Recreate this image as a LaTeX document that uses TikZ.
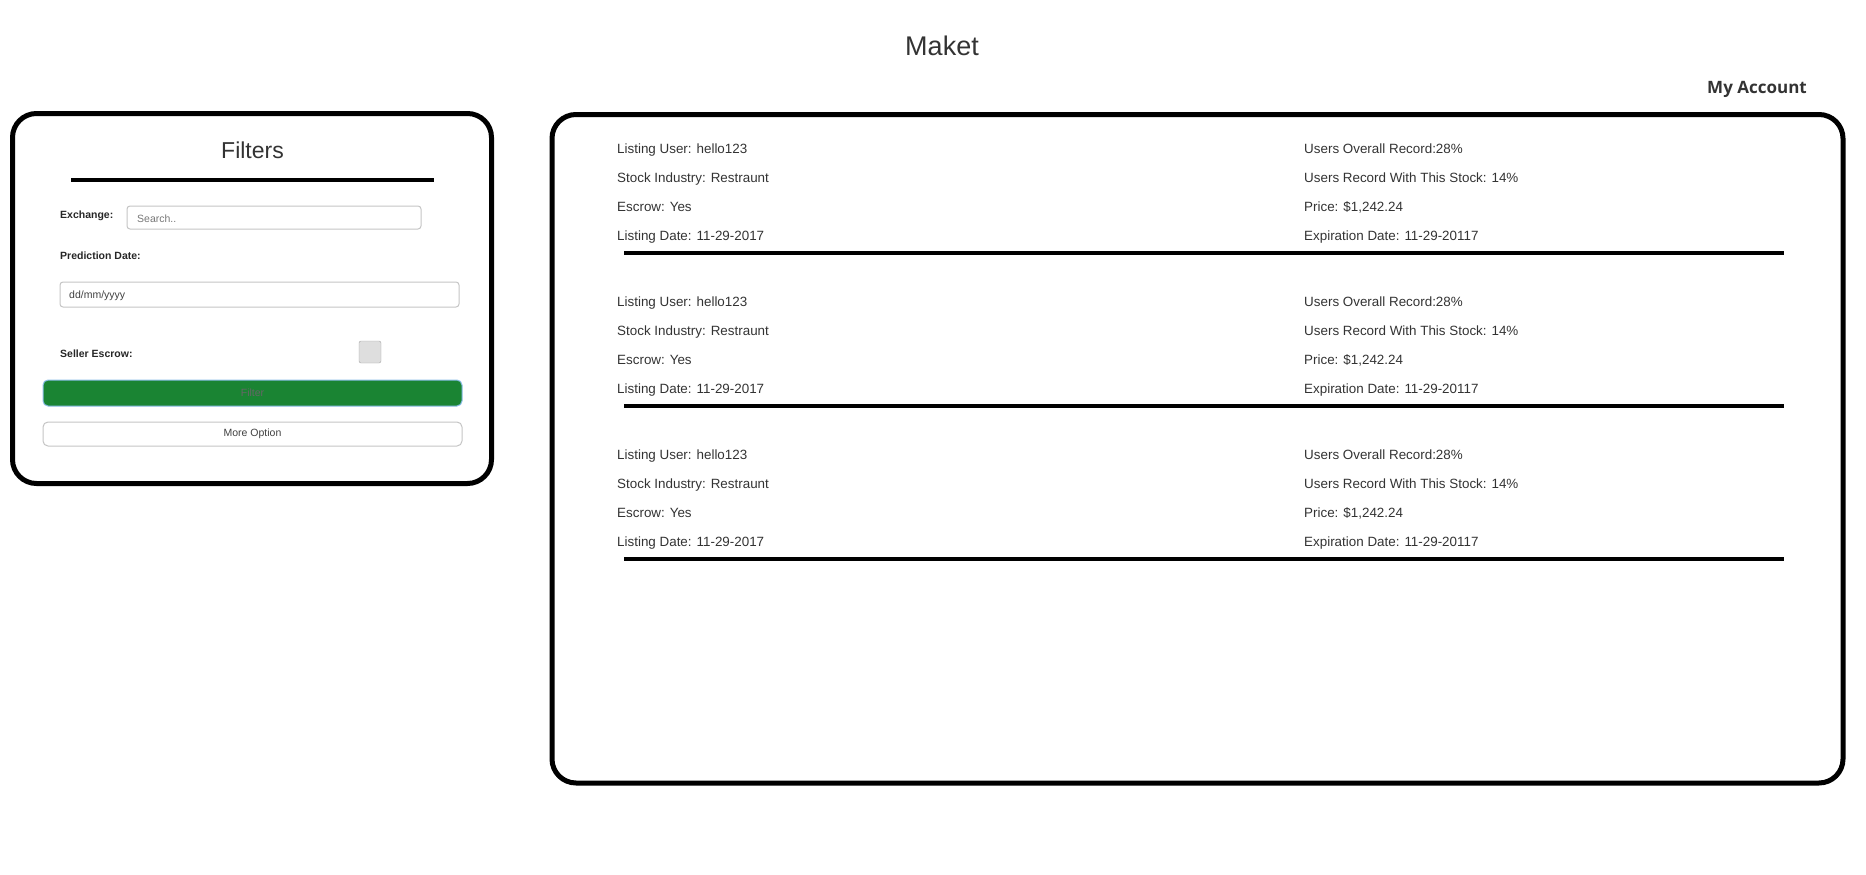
\documentclass[tikz,border=0pt]{standalone}
\usepackage{fontspec}
\setmainfont{Liberation Sans}
\newfontfamily\accountfont{Open Sans}
\definecolor{textgray}{HTML}{333333}
\definecolor{fieldgray}{HTML}{C4C4C4}
\definecolor{hintgray}{HTML}{777777}
\definecolor{btngreen}{HTML}{1A8433}
\definecolor{btnglow}{HTML}{8CBDE8}
\begin{document}
\begin{tikzpicture}[x=1pt,y=-1pt]
  \tikzstyle{panel}=[draw=black,line width=5pt,rounded corners=24pt]
  \tikzstyle{entry}=[anchor=base west,inner sep=0pt,text=textgray,font=\fontsize{13.4}{16}\selectfont]
  \tikzstyle{fieldlabel}=[anchor=base west,inner sep=0pt,text=black!85,font=\fontsize{10.5}{12}\selectfont\bfseries]
  \tikzstyle{hint}=[anchor=base west,inner sep=0pt,font=\fontsize{10.5}{12}\selectfont]
  \tikzstyle{field}=[draw=fieldgray,line width=1pt,rounded corners=3pt]
  \tikzstyle{button}=[rounded corners=5pt,minimum width=419pt,inner sep=0pt,font=\fontsize{10.5}{12}\selectfont]
  \tikzstyle{divider}=[line width=3.5pt]
  \useasboundingbox (0,0) rectangle (1866,875);

  % header
  \node[text=textgray,font=\fontsize{27}{30}\selectfont] (title) at (942,46) {Maket};
  \node[anchor=base east,inner sep=0pt,text=textgray,font=\accountfont\fontsize{17}{20}\selectfont\bfseries] (account) at (1807,93) {My Account};

  % filters panel
  \draw[panel] (12.5,113.5) rectangle (491.5,483.5);
  \node[text=textgray,font=\fontsize{23}{26}\selectfont] (filters) at (252.5,150) {Filters};
  \draw[divider] (71,180) -- (434,180);
  \node[fieldlabel] (exchange) at (60,218) {Exchange:};
  \draw[field] (127,206) rectangle (421,229);
  \node[hint,text=hintgray] (search) at (137,222) {Search..};
  \node[fieldlabel] (predict) at (60,259) {Prediction Date:};
  \draw[field] (60,282) rectangle (459,307);
  \node[hint,text=black!75] (date) at (69,298) {dd/mm/yyyy};
  \node[fieldlabel] (escrowlabel) at (60,357) {Seller Escrow:};
  \node[draw=black!35,fill=black!13,rounded corners=2pt,minimum size=22pt,inner sep=0pt] (escrowbox) at (370,352) {};
  \node[button,fill=btngreen,draw=btnglow,line width=1pt,minimum height=26pt,text=black!60] (filterbtn) at (252.5,393) {Filter};
  \node[button,draw=fieldgray,line width=1pt,minimum height=24pt,text=black!75] (morebtn) at (252.5,434) {More Option};

  % listings panel
  \draw[panel] (552,114.5) rectangle (1843,783);

  \node[entry] (user1) at (617,153.5) {Listing User: hello123};
  \node[entry] (industry1) at (617,182.5) {Stock Industry: Restraunt};
  \node[entry] (escrow1) at (617,211.5) {Escrow: Yes};
  \node[entry] (listed1) at (617,240.5) {Listing Date: 11-29-2017};
  \node[entry] (overall1) at (1304,153.5) {Users Overall Record:28\%};
  \node[entry] (stockrec1) at (1304,182.5) {Users Record With This Stock: 14\%};
  \node[entry] (price1) at (1304,211.5) {Price: \$1,242.24};
  \node[entry] (expire1) at (1304,240.5) {Expiration Date: 11-29-20117};
  \draw[divider] (624,253) -- (1784,253);

  \node[entry] (user2) at (617,306.5) {Listing User: hello123};
  \node[entry] (industry2) at (617,335.5) {Stock Industry: Restraunt};
  \node[entry] (escrow2) at (617,364.5) {Escrow: Yes};
  \node[entry] (listed2) at (617,393.5) {Listing Date: 11-29-2017};
  \node[entry] (overall2) at (1304,306.5) {Users Overall Record:28\%};
  \node[entry] (stockrec2) at (1304,335.5) {Users Record With This Stock: 14\%};
  \node[entry] (price2) at (1304,364.5) {Price: \$1,242.24};
  \node[entry] (expire2) at (1304,393.5) {Expiration Date: 11-29-20117};
  \draw[divider] (624,406) -- (1784,406);

  \node[entry] (user3) at (617,459.5) {Listing User: hello123};
  \node[entry] (industry3) at (617,488.5) {Stock Industry: Restraunt};
  \node[entry] (escrow3) at (617,517.5) {Escrow: Yes};
  \node[entry] (listed3) at (617,546.5) {Listing Date: 11-29-2017};
  \node[entry] (overall3) at (1304,459.5) {Users Overall Record:28\%};
  \node[entry] (stockrec3) at (1304,488.5) {Users Record With This Stock: 14\%};
  \node[entry] (price3) at (1304,517.5) {Price: \$1,242.24};
  \node[entry] (expire3) at (1304,546.5) {Expiration Date: 11-29-20117};
  \draw[divider] (624,559) -- (1784,559);

\end{tikzpicture}
\end{document}
